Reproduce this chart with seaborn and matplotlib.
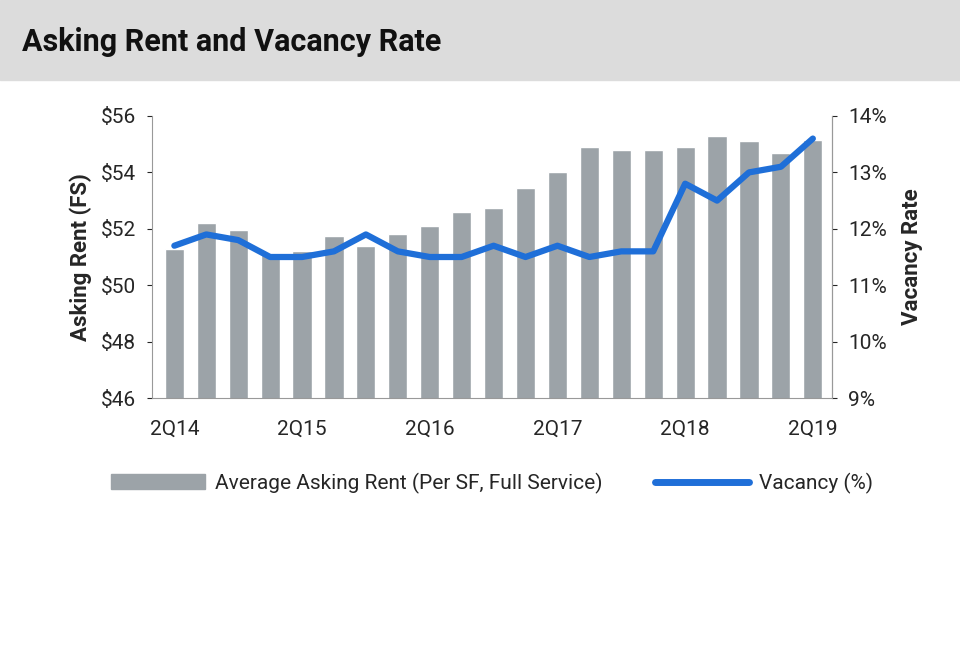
import numpy as np
import pandas as pd
import seaborn as sns
import matplotlib.pyplot as plt
from matplotlib.patches import Rectangle
from matplotlib.lines import Line2D

quarters = ['2Q14', '3Q14', '4Q14', '1Q15', '2Q15', '3Q15', '4Q15', '1Q16', '2Q16', '3Q16', '4Q16',
            '1Q17', '2Q17', '3Q17', '4Q17', '1Q18', '2Q18', '3Q18', '4Q18', '1Q19', '2Q19']
rent = [51.3, 52.2, 51.95, 51.1, 51.2, 51.75, 51.4, 51.8, 52.1, 52.6, 52.75,
        53.45, 54.0, 54.9, 54.8, 54.8, 54.9, 55.3, 55.1, 54.7, 55.15]
vacancy = [11.7, 11.9, 11.8, 11.5, 11.5, 11.6, 11.9, 11.6, 11.5, 11.5, 11.7,
           11.5, 11.7, 11.5, 11.6, 11.6, 12.8, 12.5, 13.0, 13.1, 13.6]
tick_labels = ['2Q14', '2Q15', '2Q16', '2Q17', '2Q18', '2Q19']

sns.set_style('white')
plt.rcParams['font.family'] = ['Roboto', 'DejaVu Sans']

df = pd.DataFrame({'quarter': quarters, 'rent': rent, 'vacancy': vacancy})

fig = plt.figure(figsize=(9.6, 6.54), dpi=100)
fig.patches.append(Rectangle((0, 1 - 80 / 654), 1, 80 / 654, transform=fig.transFigure,
                             color='#dcdcdc', zorder=0))
fig.text(22 / 960, 1 - 42 / 654, 'Asking Rent and Vacancy Rate', fontsize=22,
         fontweight='bold', va='center', color='#111111')

ax = fig.add_axes([152 / 960, 1 - 398 / 654, 680 / 960, 282 / 654])
sns.barplot(data=df, x='quarter', y='rent', color='#9ca3a8', width=0.6, ax=ax,
            saturation=1, bottom=0)
ax.set_ylim(46, 56)
ax.set_yticks(range(46, 57, 2))
ax.set_yticklabels([f'${v}' for v in range(46, 57, 2)], fontsize=15)
ax.set_xticks([quarters.index(t) for t in tick_labels])
ax.set_xticklabels(tick_labels, fontsize=15)
ax.tick_params(axis='x', pad=12)
ax.tick_params(axis='y', pad=8)
ax.set_xlim(-0.7, 20.6)
ax.set_xlabel('')
ax.set_ylabel('Asking Rent (FS)', fontsize=16, fontweight='bold', labelpad=6)
ax.spines['top'].set_visible(False)
for s in ['left', 'bottom', 'right']:
    ax.spines[s].set_color('#999999')

ax2 = ax.twinx()
ax2.plot(range(len(quarters)), vacancy, color='#1f6fd8', lw=4.5, solid_joinstyle='round',
         solid_capstyle='round')
ax2.set_ylim(9, 14)
ax2.set_yticks(range(9, 15))
ax2.set_yticklabels([f'{v}%' for v in range(9, 15)], fontsize=15)
ax2.tick_params(axis='y', pad=8)
ax2.set_ylabel('Vacancy Rate', fontsize=16, fontweight='bold', labelpad=10)
ax2.spines['top'].set_visible(False)
ax2.spines['right'].set_color('#999999')
ax2.spines['left'].set_visible(False)
ax2.spines['bottom'].set_visible(False)

handles = [Rectangle((0, 0), 1, 1, color='#9ca3a8'),
           Line2D([0], [0], color='#1f6fd8', lw=5)]
fig.legend(handles, ['Average Asking Rent (Per SF, Full Service)', 'Vacancy (%)'],
           loc='center', bbox_to_anchor=(492 / 960, 1 - 483 / 654), ncol=2, frameon=False,
           fontsize=15, handlelength=4.5, handletextpad=0.5, columnspacing=2.5)

fig.savefig('out.png', dpi=100)
